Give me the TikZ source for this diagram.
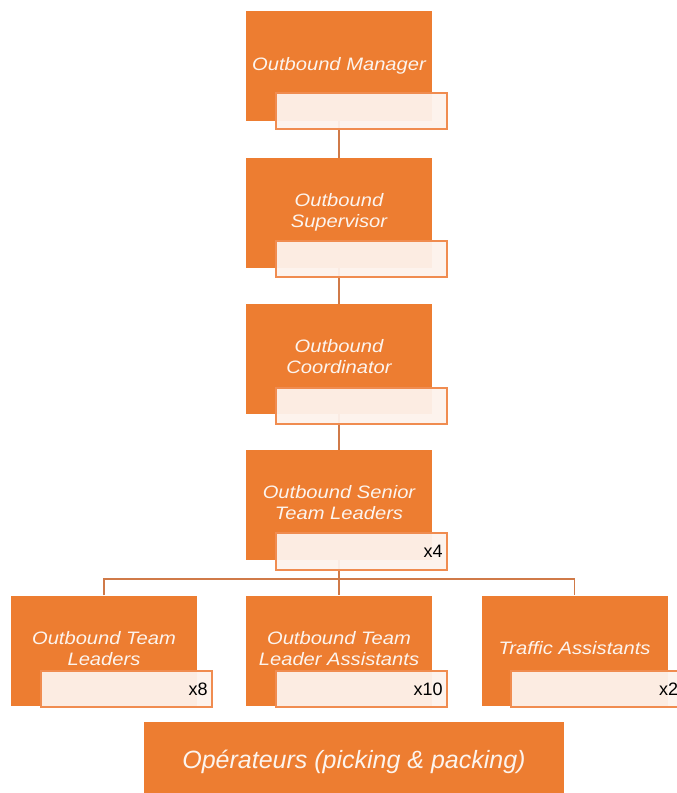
\documentclass[tikz,border=0pt]{standalone}
\usepackage{fontspec}
\setmainfont{Liberation Sans}
\newfontfamily\boxfont[FakeStretch=1.12]{Liberation Sans}
\usetikzlibrary{backgrounds}
\definecolor{boxorange}{RGB}{237,125,49}
\definecolor{tagfill}{RGB}{253,242,236}
\definecolor{tagline}{RGB}{240,140,80}
\definecolor{linkcol}{RGB}{208,122,72}
\definecolor{boxtext}{RGB}{252,244,238}
% role title, lifted a little above the box centre
\newcommand{\roletext}[1]{\raisebox{5pt}{\begin{tabular}{@{}c@{}}#1\end{tabular}}}
\tikzset{
  role/.style={fill=boxorange, draw=none, minimum width=186pt, minimum height=110pt,
    inner sep=0pt, text=boxtext, align=center,
    font=\boxfont\itshape\fontsize{18}{21}\selectfont},
  tag/.style={fill=tagfill, fill opacity=0.95, text opacity=1, draw=tagline, line width=1.8pt,
    minimum width=171pt, minimum height=36pt, inner sep=4pt, text=black,
    align=right, font=\fontsize{18}{20}\selectfont},
  link/.style={draw=linkcol, line width=1.8pt},
}
\begin{document}
\begin{tikzpicture}[x=1pt,y=-1pt]
\useasboundingbox (0,0) rectangle (677,793);
\clip (0,0) rectangle (677,793);

% role boxes
\node[role] (mgr)   at (339,66)    {\roletext{Outbound Manager}};
\node[role] (sup)   at (339,213)   {\roletext{Outbound\\Supervisor}};
\node[role] (coord) at (339,359)   {\roletext{Outbound\\Coordinator}};
\node[role] (stl)   at (339,505)   {\roletext{Outbound Senior\\Team Leaders}};
\node[role] (otl)   at (104,650.5) {\roletext{Outbound Team\\Leaders}};
\node[role] (otla)  at (339,650.5) {\roletext{Outbound Team\\Leader Assistants}};
\node[role] (ta)    at (574.5,650.5) {\roletext{Traffic Assistants}};
\node[role, minimum width=420pt, minimum height=80pt,
      font=\itshape\fontsize{25}{28}\selectfont] (ops) at (354,762)
      {Opérateurs (picking \& packing)};

% count tags overlapping each role box
\node[tag, anchor=south west] (mgrtag)   at ([xshift=29pt,yshift=-9pt]mgr.south west) {};
\node[tag, anchor=south west] (suptag)   at ([xshift=29pt,yshift=-10pt]sup.south west) {};
\node[tag, anchor=south west] (coordtag) at ([xshift=29pt,yshift=-11pt]coord.south west) {};
\node[tag, anchor=south west, text width=163pt, minimum height=37pt] (stltag) at ([xshift=29pt,yshift=-11pt]stl.south west) {x4};
\node[tag, anchor=south west, text width=163pt] (otltag)  at ([xshift=29pt,yshift=-2pt]otl.south west) {x8};
\node[tag, anchor=south west, text width=163pt] (otlatag) at ([xshift=29pt,yshift=-2pt]otla.south west) {x10};
\node[tag, anchor=south west, text width=163pt] (tatag)   at ([xshift=29pt,yshift=-2pt]ta.south west) {x2};

% reporting lines, behind boxes and tags
\coordinate (bus) at (339,579);
\begin{scope}[on background layer]
  \draw[link] (mgr.center) -- (sup.north);
  \draw[link] (sup.center) -- (coord.north);
  \draw[link] (coord.center) -- (stl.north);
  \draw[link] (stl.center) -- (bus);
  \draw[link] (otl.north) -- (otl.north |- bus) -- (ta.north |- bus) -- (ta.north);
  \draw[link] (bus) -- (otla.north);
\end{scope}
\end{tikzpicture}
\end{document}
